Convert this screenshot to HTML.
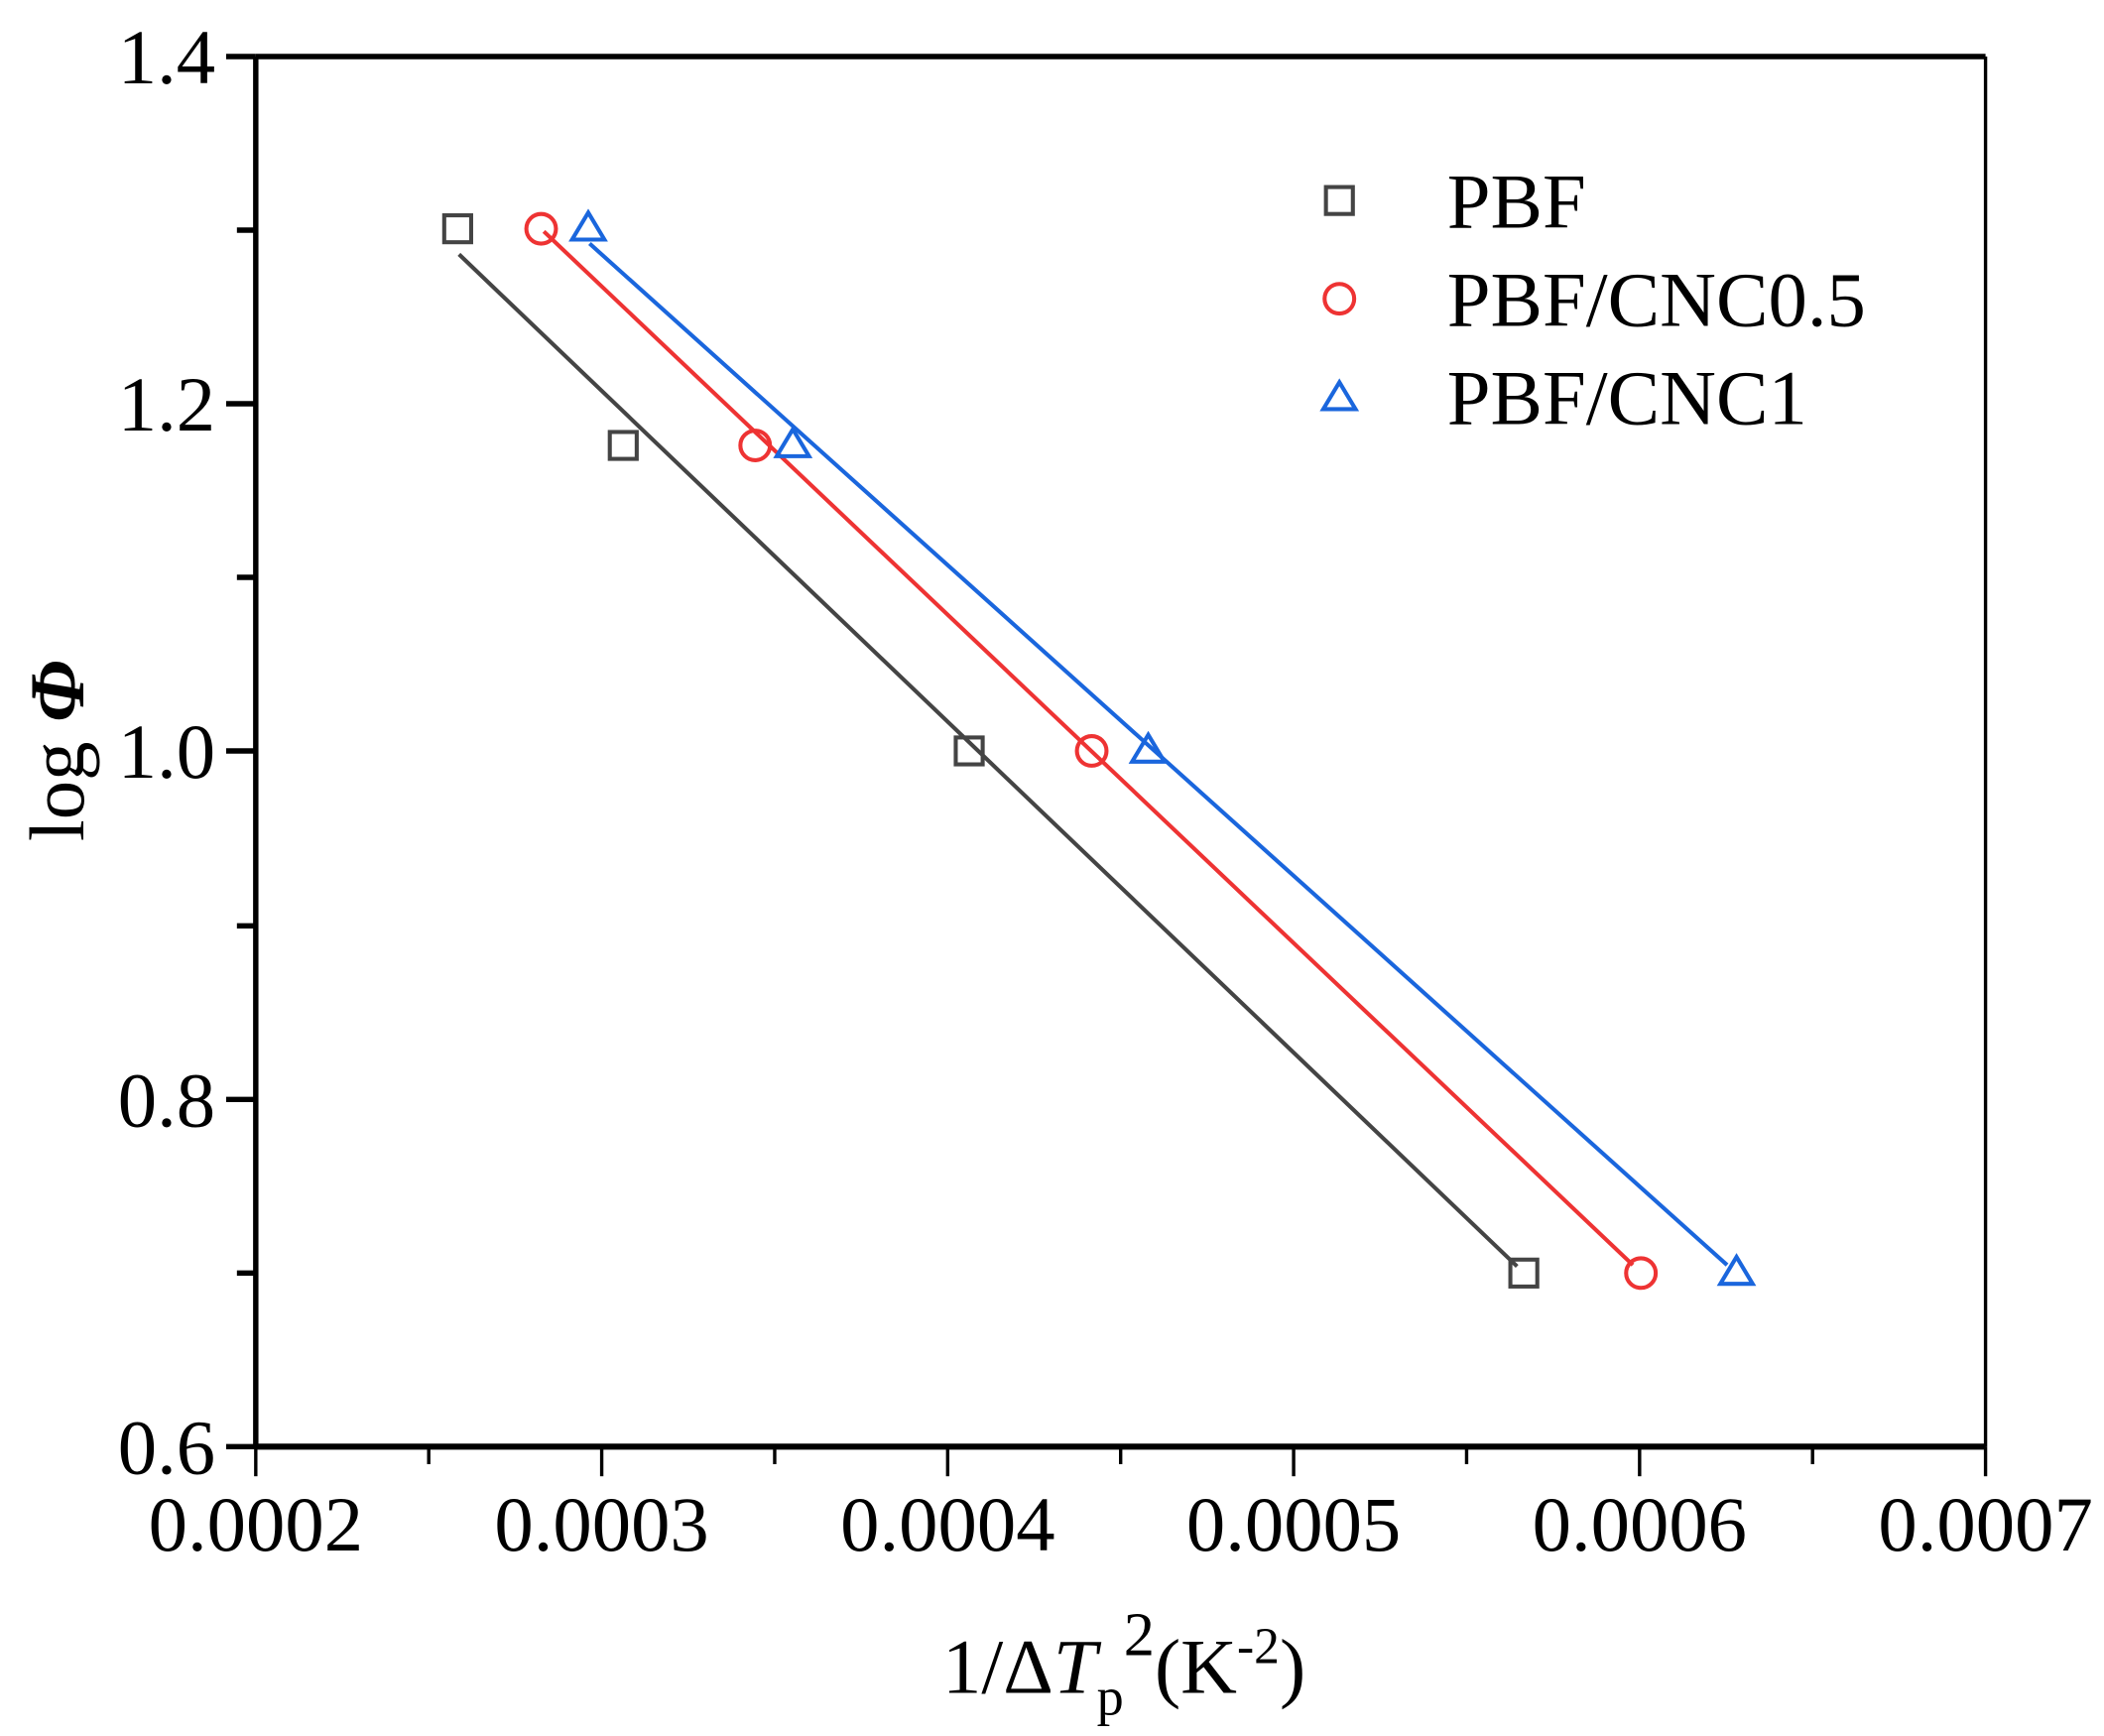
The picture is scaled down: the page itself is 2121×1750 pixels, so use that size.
<!DOCTYPE html>
<html><head><style>html,body{margin:0;padding:0;background:#fff}svg{display:block}text{font-family:"Liberation Serif","Times New Roman",serif}</style></head>
<body>
<svg width="2121" height="1750" viewBox="0 0 1563 1290" preserveAspectRatio="none" xmlns="http://www.w3.org/2000/svg">
<rect width="1563" height="1290" fill="#fff"/>
<!-- axes -->
<line x1="190" y1="42" x2="1475" y2="42" stroke="#000" stroke-width="4"/>
<line x1="1475" y1="42" x2="1475" y2="1075" stroke="#000" stroke-width="2.5"/>
<line x1="190" y1="1075" x2="1475" y2="1075" stroke="#000" stroke-width="4.5"/>
<line x1="190" y1="42" x2="190" y2="1075" stroke="#000" stroke-width="4"/>
<g stroke="#000" stroke-width="2.5">
<line x1="190" y1="1075" x2="190" y2="1097"/><line x1="447" y1="1075" x2="447" y2="1097"/><line x1="704" y1="1075" x2="704" y2="1097"/><line x1="961" y1="1075" x2="961" y2="1097"/><line x1="1218" y1="1075" x2="1218" y2="1097"/><line x1="1475" y1="1075" x2="1475" y2="1097"/>
<line x1="318.5" y1="1075" x2="318.5" y2="1088"/><line x1="575.5" y1="1075" x2="575.5" y2="1088"/><line x1="832.5" y1="1075" x2="832.5" y2="1088"/><line x1="1089.5" y1="1075" x2="1089.5" y2="1088"/><line x1="1346.5" y1="1075" x2="1346.5" y2="1088"/>
</g>
<g stroke="#000" stroke-width="4">
<line x1="168" y1="42" x2="190" y2="42"/><line x1="168" y1="300" x2="190" y2="300"/><line x1="168" y1="558" x2="190" y2="558"/><line x1="168" y1="817" x2="190" y2="817"/><line x1="168" y1="1075" x2="190" y2="1075"/>
<line x1="176" y1="171" x2="190" y2="171"/><line x1="176" y1="429" x2="190" y2="429"/><line x1="176" y1="688" x2="190" y2="688"/><line x1="176" y1="946" x2="190" y2="946"/>
</g>
<g font-size="58" text-anchor="end">
<text x="160" y="62">1.4</text><text x="160" y="320">1.2</text><text x="160" y="578">1.0</text><text x="160" y="837">0.8</text><text x="160" y="1095">0.6</text>
</g>
<g font-size="58" text-anchor="middle">
<text x="190" y="1152">0.0002</text><text x="447" y="1152">0.0003</text><text x="704" y="1152">0.0004</text><text x="961" y="1152">0.0005</text><text x="1218" y="1152">0.0006</text><text x="1475" y="1152">0.0007</text>
</g>
<text x="835" y="1258" font-size="58" text-anchor="middle">1/Δ<tspan font-style="italic">T</tspan><tspan font-size="40" dy="16">p</tspan><tspan dy="-44" font-size="46">2</tspan><tspan dy="28">(K</tspan><tspan font-size="38" dy="-22">-2</tspan><tspan dy="22">)</tspan></text>
<text transform="translate(62,558) rotate(-90)" font-size="58" text-anchor="middle">log <tspan font-style="italic" font-weight="bold">Φ</tspan></text>
<!-- lines -->
<line x1="341" y1="189" x2="1127" y2="941" stroke="#444" stroke-width="3"/>
<line x1="404" y1="172" x2="1213" y2="940" stroke="#ee3333" stroke-width="3"/>
<line x1="438" y1="181" x2="1283" y2="940" stroke="#1a66dd" stroke-width="3"/>
<!-- markers -->
<g fill="none" stroke="#444" stroke-width="3">
<rect x="330" y="160" width="20" height="20"/><rect x="453" y="321" width="20" height="20"/><rect x="710" y="548" width="20" height="20"/><rect x="1122" y="936" width="20" height="20"/>
<rect x="985" y="139" width="20" height="20"/>
</g>
<g fill="none" stroke="#ee3333" stroke-width="3">
<circle cx="402" cy="170" r="11"/><circle cx="561" cy="331" r="11"/><circle cx="811" cy="558" r="11"/><circle cx="1219" cy="946" r="11"/><circle cx="995" cy="222" r="11"/>
</g>
<g fill="none" stroke="#1a66dd" stroke-width="3">
<polygon points="437,158 449,178 425,178"/><polygon points="589,319 601,339 577,339"/><polygon points="853,546 865,566 841,566"/><polygon points="1290,934 1302,954 1278,954"/><polygon points="995,284 1007,304 983,304"/>
</g>
<g font-size="58">
<text x="1075" y="169">PBF</text><text x="1075" y="242">PBF/CNC0.5</text><text x="1075" y="315">PBF/CNC1</text>
</g>
</svg>
</body></html>
